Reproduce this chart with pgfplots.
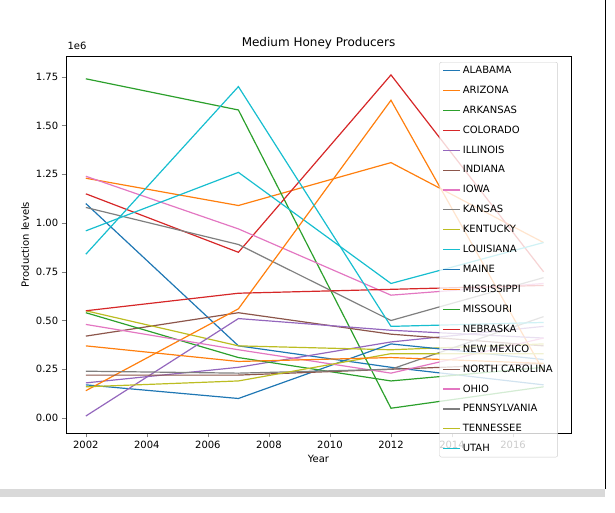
\documentclass[border=0pt]{standalone}
\usepackage{pgfplots}
\pgfplotsset{compat=1.18}
\usepackage{fontspec}
\setmainfont{DejaVu Sans}
\definecolor{c0}{HTML}{1F77B4}\definecolor{c1}{HTML}{FF7F0E}\definecolor{c2}{HTML}{2CA02C}
\definecolor{c3}{HTML}{D62728}\definecolor{c4}{HTML}{9467BD}\definecolor{c5}{HTML}{8C564B}
\definecolor{c6}{HTML}{E377C2}\definecolor{c7}{HTML}{7F7F7F}\definecolor{c8}{HTML}{BCBD22}
\definecolor{c9}{HTML}{17BECF}
\begin{document}
\begin{tikzpicture}
\useasboundingbox (0pt,0pt) rectangle (615pt,513pt);
\begin{scope}
\clip (0pt,22pt) rectangle (605pt,513pt);
\begin{axis}[at={(66pt,80pt)},anchor=south west,scale only axis,width=505pt,height=377pt,
  xmin=2001.35,xmax=2017.9,ymin=-0.077,ymax=1.857,
  xtick={2002,2004,...,2016},ytick={0,0.25,...,1.75},
  yticklabel style={/pgf/number format/.cd,fixed,fixed zerofill,precision=2},
  xticklabel style={/pgf/number format/1000 sep={}},
  /pgf/number format/assume math mode=true,
  tick label style={font=\fontsize{10}{12}\selectfont},
  title={Medium Honey Producers},title style={font=\fontsize{12}{14}\selectfont,yshift=-3pt},
  xlabel={Year},ylabel={Production levels},
  label style={font=\fontsize{10}{12}\selectfont},
  tick align=outside,tick pos=left,
  every axis plot/.append style={line width=1.2pt,mark=none},
  legend cell align=left,
  legend style={at={(0.974,0.984)},anchor=north east,font=\fontsize{10}{12}\selectfont,
    fill=white,fill opacity=0.8,text opacity=1,draw=gray!40,rounded corners=2pt,
    row sep=7pt},
]
\addplot[c0] coordinates {(2002,1.10)(2007,0.37)(2012,0.26)(2017,0.17)};
\addlegendentry{ALABAMA}
\addplot[c1] coordinates {(2002,1.23)(2007,1.09)(2012,1.31)(2017,0.90)};
\addlegendentry{ARIZONA}
\addplot[c2] coordinates {(2002,1.74)(2007,1.58)(2012,0.05)(2017,0.16)};
\addlegendentry{ARKANSAS}
\addplot[c3] coordinates {(2002,1.15)(2007,0.85)(2012,1.76)(2017,0.75)};
\addlegendentry{COLORADO}
\addplot[c4] coordinates {(2002,0.18)(2007,0.26)(2012,0.39)(2017,0.47)};
\addlegendentry{ILLINOIS}
\addplot[c5] coordinates {(2002,0.42)(2007,0.54)(2012,0.43)(2017,0.37)};
\addlegendentry{INDIANA}
\addplot[c6] coordinates {(2002,1.24)(2007,0.97)(2012,0.63)(2017,0.69)};
\addlegendentry{IOWA}
\addplot[c7] coordinates {(2002,1.08)(2007,0.89)(2012,0.50)(2017,0.72)};
\addlegendentry{KANSAS}
\addplot[c8] coordinates {(2002,0.55)(2007,0.37)(2012,0.35)(2017,0.38)};
\addlegendentry{KENTUCKY}
\addplot[c9] coordinates {(2002,0.96)(2007,1.26)(2012,0.69)(2017,0.90)};
\addlegendentry{LOUISIANA}
\addplot[c0] coordinates {(2002,0.17)(2007,0.10)(2012,0.38)(2017,0.30)};
\addlegendentry{MAINE}
\addplot[c1] coordinates {(2002,0.14)(2007,0.56)(2012,1.63)(2017,0.24)};
\addlegendentry{MISSISSIPPI}
\addplot[c2] coordinates {(2002,0.54)(2007,0.31)(2012,0.19)(2017,0.26)};
\addlegendentry{MISSOURI}
\addplot[c3] coordinates {(2002,0.55)(2007,0.64)(2012,0.66)(2017,0.68)};
\addlegendentry{NEBRASKA}
\addplot[c4] coordinates {(2002,0.01)(2007,0.51)(2012,0.45)(2017,0.41)};
\addlegendentry{NEW MEXICO}
\addplot[c5] coordinates {(2002,0.22)(2007,0.22)(2012,0.25)(2017,0.28)};
\addlegendentry{NORTH CAROLINA}
\addplot[c6] coordinates {(2002,0.48)(2007,0.35)(2012,0.23)(2017,0.41)};
\addlegendentry{OHIO}
\addplot[c7] coordinates {(2002,0.24)(2007,0.23)(2012,0.25)(2017,0.52)};
\addlegendentry{PENNSYLVANIA}
\addplot[c8] coordinates {(2002,0.16)(2007,0.19)(2012,0.33)(2017,0.33)};
\addlegendentry{TENNESSEE}
\addplot[c9] coordinates {(2002,0.84)(2007,1.70)(2012,0.47)(2017,0.49)};
\addlegendentry{UTAH}
\addplot[c1,forget plot] coordinates {(2002,0.37)(2007,0.29)(2012,0.31)(2017,0.28)};
\end{axis}
\node[anchor=south west,font=\fontsize{10}{12}\selectfont] at (64pt,460pt) {1e6};
\end{scope}
\fill[gray!30] (0pt,16pt) rectangle (605pt,24pt);
\draw[black,line width=1pt] (605pt,24pt) -- (605pt,513pt);
\end{tikzpicture}
\end{document}
